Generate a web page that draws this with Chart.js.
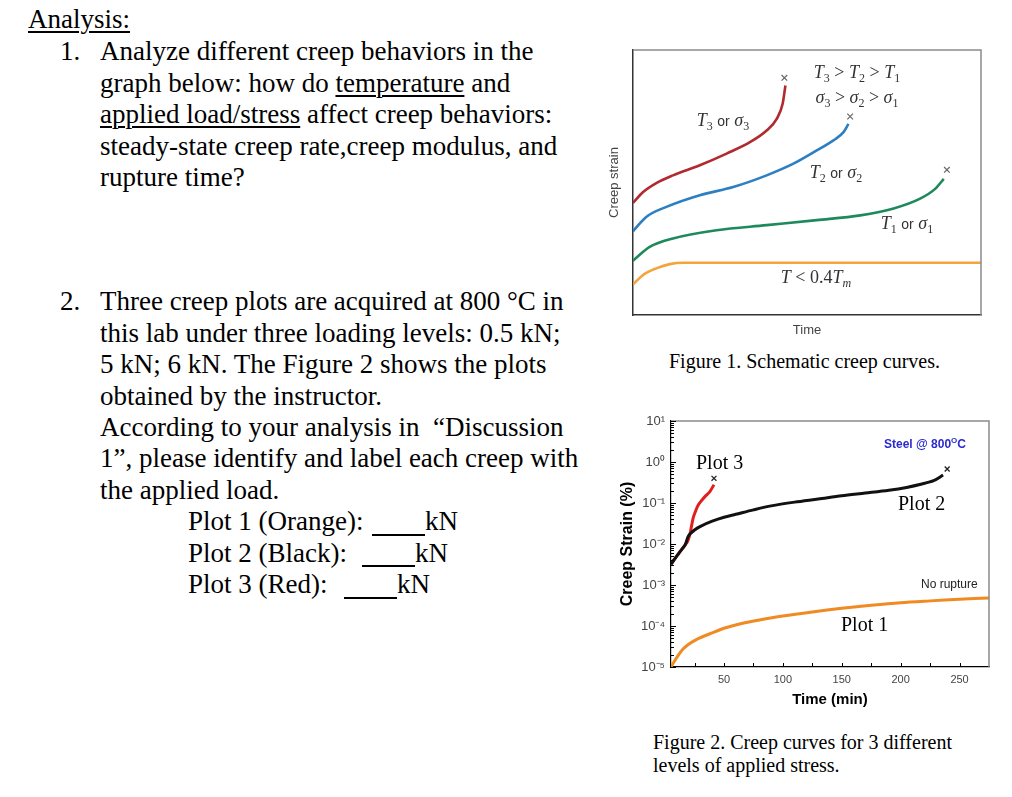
<!DOCTYPE html>
<html><head><meta charset="utf-8">
<script src="https://cdn.jsdelivr.net/npm/chart.js@4.4.1/dist/chart.umd.min.js"></script>
<style>
html,body{margin:0;padding:0;background:#fff;}
body{width:1012px;height:797px;overflow:hidden;position:relative;}
.t{position:absolute;font-family:"Liberation Serif","Times New Roman",serif;font-size:27px;line-height:27px;white-space:nowrap;color:#000;}
.u{text-decoration:underline;text-decoration-thickness:1.5px;text-underline-offset:3px;}
.blank{position:absolute;height:0;border-bottom:2px solid #000;}
.cap{position:absolute;font-family:"Liberation Serif","Times New Roman",serif;font-size:20px;line-height:23px;white-space:nowrap;color:#000;}
.m{position:absolute;font-family:"Liberation Serif",serif;font-size:18px;line-height:18px;color:#333;white-space:nowrap;transform:translate(-50%,-50%);}
.m i{font-style:italic;}
.m .o{font-family:"Liberation Sans",Arial,sans-serif;font-size:14px;}
.m sub{font-size:12px;vertical-align:-4px;line-height:0;}
.p{position:absolute;font-family:"Liberation Serif",serif;font-size:20px;line-height:20px;white-space:nowrap;color:#000;}
.s{position:absolute;font-family:"Liberation Sans",Arial,sans-serif;white-space:nowrap;}
.box{position:absolute;}
</style>
</head><body>

<div class="t u" style="left:28px;top:6px;">Analysis:</div>
<div class="t" style="left:60px;top:38px;">1.</div>
<div class="t" style="left:100px;top:38px;">Analyze different creep behaviors in the</div>
<div class="t" style="left:100px;top:70px;">graph below: how do <span class="u">temperature</span> and</div>
<div class="t" style="left:100px;top:101px;"><span class="u">applied load/stress</span> affect creep behaviors:</div>
<div class="t" style="left:100px;top:133px;">steady-state creep rate,creep modulus, and</div>
<div class="t" style="left:100px;top:164px;">rupture time?</div>

<div class="t" style="left:60px;top:288px;">2.</div>
<div class="t" style="left:100px;top:288px;">Three creep plots are acquired at 800 °C in</div>
<div class="t" style="left:100px;top:320px;">this lab under three loading levels: 0.5 kN;</div>
<div class="t" style="left:100px;top:351px;">5 kN; 6 kN. The Figure 2 shows the plots</div>
<div class="t" style="left:100px;top:383px;">obtained by the instructor.</div>
<div class="t" style="left:100px;top:414px;">According to your analysis in &nbsp;“Discussion</div>
<div class="t" style="left:100px;top:445px;">1”, please identify and label each creep with</div>
<div class="t" style="left:100px;top:477px;">the applied load.</div>
<div class="t" style="left:188px;top:508px;">Plot 1 (Orange):</div>
<div class="blank" style="left:372px;top:534px;width:53px;"></div>
<div class="t" style="left:425px;top:508px;">kN</div>
<div class="t" style="left:188px;top:540px;">Plot 2 (Black):</div>
<div class="blank" style="left:362px;top:565px;width:53px;"></div>
<div class="t" style="left:415px;top:540px;">kN</div>
<div class="t" style="left:188px;top:571px;">Plot 3 (Red):</div>
<div class="blank" style="left:344px;top:597px;width:53px;"></div>
<div class="t" style="left:397px;top:571px;">kN</div>

<div class="box" style="left:600px;top:40px;width:400px;height:310px;"><canvas id="c1" width="400" height="310"></canvas></div>
<div class="box" style="left:600px;top:400px;width:412px;height:320px;"><canvas id="c2" width="412" height="320"></canvas></div>

<div class="m" style="left:857px;top:72px;"><i>T</i><sub>3</sub> &gt; <i>T</i><sub>2</sub> &gt; <i>T</i><sub>1</sub></div>
<div class="m" style="left:857px;top:97px;"><i>σ</i><sub>3</sub> &gt; <i>σ</i><sub>2</sub> &gt; <i>σ</i><sub>1</sub></div>
<div class="m" style="left:723px;top:120px;"><i>T</i><sub>3</sub> <span class="o">or</span> <i>σ</i><sub>3</sub></div>
<div class="m" style="left:836px;top:172px;"><i>T</i><sub>2</sub> <span class="o">or</span> <i>σ</i><sub>2</sub></div>
<div class="m" style="left:907px;top:223px;"><i>T</i><sub>1</sub> <span class="o">or</span> <i>σ</i><sub>1</sub></div>
<div class="m" style="left:816px;top:277px;"><i>T</i> &lt; 0.4<i>T</i><sub><i>m</i></sub></div>

<div class="cap" style="left:669px;top:350px;">Figure 1. Schematic creep curves.</div>

<div class="p" style="left:696px;top:452px;">Plot 3</div>
<div class="p" style="left:898px;top:493px;">Plot 2</div>
<div class="p" style="left:841px;top:614px;">Plot 1</div>
<div class="s" style="left:921px;top:577px;font-size:12px;color:#222;">No rupture</div>
<div class="s" style="left:884px;top:436px;font-size:12px;font-weight:bold;color:#2a2ad0;">Steel @ 800<sup style="font-size:8px;">O</sup>C</div>

<div class="cap" style="left:653px;top:731px;">Figure 2. Creep curves for 3 different<br>levels of applied stress.</div>

<script>
// ---------- Figure 1 (schematic creep curves), arbitrary units 0..100 ----------
const f1RedX    = [0, 2.9, 6.7, 11.5, 19.2, 26.9, 33.6, 38.4, 41.3, 43.0, 43.8];
const f1RedY    = [42.3, 46.4, 49.8, 52.7, 56.5, 60.9, 65.2, 69.6, 74.0, 79.7, 86.6];
const f1BlueX   = [0, 3.8, 9.6, 19.2, 28.8, 38.4, 46.1, 52.8, 57.6, 60.5, 61.9];
const f1BlueY   = [31.6, 37.0, 40.8, 45.2, 48.3, 52.7, 57.1, 62.1, 65.9, 69.0, 72.1];
const f1GreenX  = [0, 4.8, 11.5, 24.0, 38.4, 52.8, 65.3, 74.9, 82.5, 86.9, 89.3];
const f1GreenY  = [20.5, 25.7, 28.9, 32.0, 33.9, 35.8, 37.6, 40.2, 43.9, 47.7, 51.4];
const f1OrangeX = [0, 2.9, 6.7, 10.6, 14.4, 100];
const f1OrangeY = [11.5, 15.1, 17.6, 19.2, 19.7, 19.7];
const f1RuptureX = [43.5, 62.4, 90.2];
const f1RuptureY = [89.5, 74.9, 54.8];

// ---------- Figure 2 (steel @ 800 C) ----------
const f2OrangeT = [5, 8, 11, 15, 20, 25, 30, 40, 50, 65, 80, 100, 125, 150, 175, 200, 225, 250, 275];
const f2OrangeS = [1.0e-5, 1.4e-5, 1.9e-5, 2.7e-5, 3.6e-5, 4.4e-5, 5.2e-5, 6.8e-5, 8.8e-5, 1.15e-4, 1.4e-4, 1.75e-4, 2.2e-4, 2.7e-4, 3.2e-4, 3.7e-4, 4.1e-4, 4.5e-4, 4.8e-4];
const f2BlackT  = [5, 8, 11, 14, 17, 20, 25, 30, 40, 50, 60, 75, 90, 110, 130, 150, 170, 190, 205, 218, 228, 236];
const f2BlackS  = [0.0032, 0.0043, 0.0056, 0.0073, 0.0095, 0.016, 0.022, 0.027, 0.036, 0.045, 0.053, 0.068, 0.085, 0.105, 0.125, 0.15, 0.175, 0.205, 0.24, 0.29, 0.35, 0.48];
const f2RedT    = [5, 8, 11, 14, 17, 19, 21, 22.5, 24, 26, 28, 31, 34, 38, 41.5];
const f2RedS    = [0.0032, 0.0043, 0.0056, 0.0073, 0.0095, 0.0115, 0.017, 0.028, 0.045, 0.065, 0.088, 0.115, 0.145, 0.19, 0.28];
const f2RuptureT = [41.5, 239.5];
const f2RuptureS = [0.40, 0.675];

const f2XTicks = [25, 50, 75, 100, 125, 150, 175, 200, 225, 250];
const f2XTickLabels = ['', '50', '', '100', '', '150', '', '200', '', '250'];
const f2YDecades = [1e-5, 1e-4, 1e-3, 1e-2, 1e-1, 1, 10];
const f2YDecadeLabels = ['10⁻⁵', '10⁻⁴', '10⁻³', '10⁻²', '10⁻¹', '10⁰', '10¹'];

const pts = (xs, ys) => xs.map((x, i) => ({x: x, y: ys[i]}));

const f2YTickValues = [];
f2YDecades.forEach((d, k) => {
  if (k === f2YDecades.length - 1) { f2YTickValues.push(d); return; }
  for (let m = 1; m < 10; m++) f2YTickValues.push(m * d);
});

const frame = {
  id: 'frame',
  afterDraw(c, args, o) {
    const {ctx, chartArea: a} = c;
    ctx.save();
    ctx.strokeStyle = o.color; ctx.lineWidth = o.width;
    ctx.beginPath();
    ctx.moveTo(a.left, a.top); ctx.lineTo(a.right, a.top); ctx.lineTo(a.right, a.bottom);
    ctx.stroke();
    ctx.restore();
  }
};

const inTicks = {
  id: 'inTicks',
  afterDraw(c, args, o) {
    if (!o || !o.on) return;
    const {ctx, chartArea: a, scales: {x, y}} = c;
    ctx.save();
    ctx.strokeStyle = '#000'; ctx.lineWidth = 1;
    ctx.beginPath();
    y.ticks.forEach(t => {
      const py = Math.round(y.getPixelForValue(t.value)) + 0.5;
      const len = f2YDecades.includes(t.value) ? 5 : 3;
      ctx.moveTo(a.left, py); ctx.lineTo(a.left + len, py);
    });
    x.ticks.forEach(t => {
      const px = Math.round(x.getPixelForValue(t.value)) + 0.5;
      ctx.moveTo(px, a.bottom); ctx.lineTo(px, a.bottom - 4);
    });
    ctx.stroke();
    ctx.restore();
  }
};

Chart.defaults.font.family = '"Liberation Sans", Arial, sans-serif';

const line1 = (data, color) => ({data, borderColor: color, borderWidth: 2.6, showLine: true, pointRadius: 0, cubicInterpolationMode: 'monotone', fill: false});

new Chart(document.getElementById('c1'), {
  type: 'scatter',
  data: {datasets: [
    line1(pts(f1OrangeX, f1OrangeY), '#f4a43c'),
    line1(pts(f1GreenX, f1GreenY), '#1e8a5c'),
    line1(pts(f1BlueX, f1BlueY), '#2e7fc2'),
    line1(pts(f1RedX, f1RedY), '#b02a30'),
    {data: pts(f1RuptureX, f1RuptureY), showLine: false, pointStyle: 'crossRot', pointRadius: 4, borderColor: '#666', borderWidth: 1.2}
  ]},
  options: {
    responsive: false, animation: false, events: [],
    layout: {padding: {left: 0, top: 10, right: 19, bottom: 0}},
    plugins: {legend: {display: false}, tooltip: {enabled: false}, frame: {color: '#8a8a8a', width: 1.5}},
    scales: {
      x: {type: 'linear', min: 0, max: 100, afterFit(s) { s.height = 35; },
        ticks: {display: false}, grid: {display: false, drawTicks: false},
        border: {display: true, color: '#333', width: 1.5},
        title: {display: true, text: 'Time', color: '#444', font: {size: 13}, padding: {top: 0, bottom: 12}}},
      y: {type: 'linear', min: 0, max: 100, afterFit(s) { s.width = 33; },
        ticks: {display: false}, grid: {display: false, drawTicks: false},
        border: {display: true, color: '#333', width: 1.5},
        title: {display: true, text: 'Creep strain', color: '#444', font: {size: 13}, padding: {top: 7, bottom: 0}}}
    }
  },
  plugins: [frame]
});

const line2 = (data, color) => ({data, borderColor: color, borderWidth: 3, showLine: true, pointRadius: 0, tension: 0.3, fill: false});

new Chart(document.getElementById('c2'), {
  type: 'scatter',
  data: {datasets: [
    line2(pts(f2OrangeT, f2OrangeS), '#f08a22'),
    line2(pts(f2BlackT, f2BlackS), '#111111'),
    line2(pts(f2RedT, f2RedS), '#e0201e'),
    {data: pts(f2RuptureT, f2RuptureS), showLine: false, pointStyle: 'crossRot', pointRadius: 3.5, borderColor: '#222', borderWidth: 1.3}
  ]},
  options: {
    responsive: false, animation: false, events: [],
    layout: {padding: {left: 0, top: 21, right: 23, bottom: 0}},
    plugins: {legend: {display: false}, tooltip: {enabled: false}, frame: {color: '#8a8a8a', width: 1.5}, inTicks: {on: true}},
    scales: {
      x: {type: 'linear', min: 5, max: 275,
        afterBuildTicks(s) { s.ticks = f2XTicks.map(v => ({value: v})); },
        afterFit(s) { s.height = 53; },
        ticks: {autoSkip: false, maxRotation: 0, padding: 6, color: '#444', font: {size: 11},
          callback(v, i) { return f2XTickLabels[i]; }},
        grid: {display: false, drawTicks: false}, border: {display: true, color: '#000', width: 1.2},
        title: {display: true, text: 'Time (min)', color: '#000', font: {size: 15, weight: 'bold'}, padding: {top: 0, bottom: 11}}},
      y: {type: 'logarithmic', min: 1e-5, max: 10,
        afterBuildTicks(s) { s.ticks = f2YTickValues.map(v => ({value: v})); },
        afterFit(s) { s.width = 71; },
        ticks: {autoSkip: false, padding: 6, color: '#444', font: {size: 13},
          callback(v) { const k = f2YDecades.indexOf(v); return k >= 0 ? f2YDecadeLabels[k] : ''; }},
        grid: {display: false, drawTicks: false}, border: {display: true, color: '#000', width: 1.2},
        title: {display: true, text: 'Creep Strain (%)', color: '#000', font: {size: 16, weight: 'bold'}, padding: {top: 18, bottom: 0}}}
    }
  },
  plugins: [frame, inTicks]
});
</script>
</body></html>
